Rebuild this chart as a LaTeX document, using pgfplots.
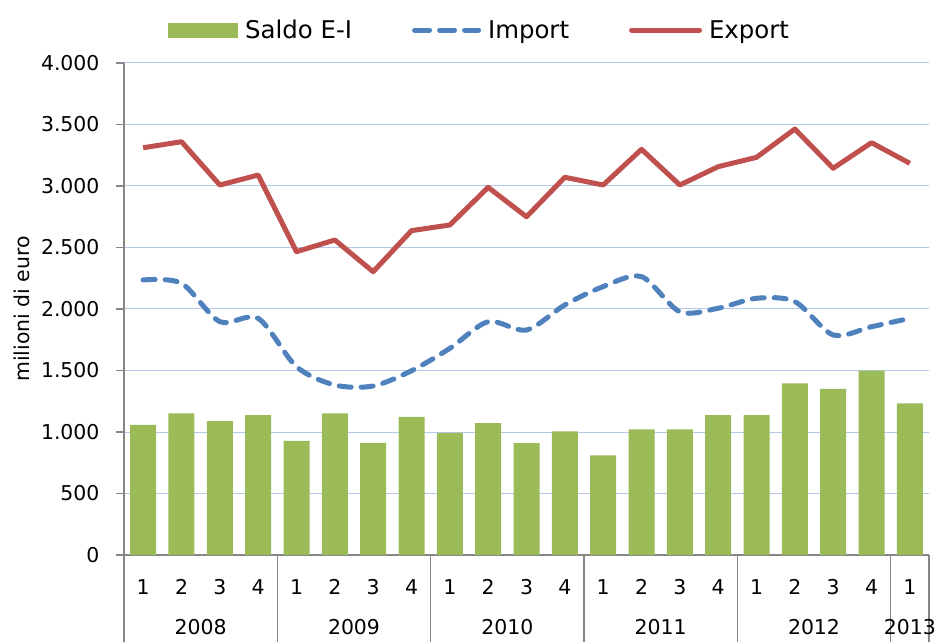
\documentclass[border=0pt]{standalone}
\usepackage{fontspec}
\setmainfont{DejaVu Sans}
\usepackage{pgfplots}
\usepackage{pgfplotstable}
\pgfplotsset{compat=1.18}
\usetikzlibrary{calc}
\definecolor{cbar}{HTML}{9BBB59}
\definecolor{cimp}{HTML}{4F81BD}
\definecolor{cexp}{HTML}{C0504D}
\definecolor{cgrid}{HTML}{B4C8EC}
\definecolor{caxis}{HTML}{868686}

\pgfplotstableread{
x saldo import export
0 1057 2236 3311
1 1152 2209 3360
2 1089 1897 3008
3 1138 1924 3089
4 927 1531 2466
5 1152 1382 2561
6 911 1374 2303
7 1122 1498 2637
8 992 1680 2683
9 1073 1897 2989
10 910 1829 2750
11 1005 2033 3071
12 810 2182 3008
13 1022 2263 3298
14 1022 1978 3008
15 1138 2006 3157
16 1138 2087 3233
17 1396 2060 3463
18 1350 1789 3144
19 1498 1856 3352
20 1233 1924 3184
}\data

\begin{document}
\begin{tikzpicture}
\begin{axis}[
  scale only axis, width=805bp, height=492bp,
  xmin=-0.5, xmax=20.5, ymin=0, ymax=4000,
  axis lines*=left,
  axis line style={caxis, line width=1.2bp},
  ytick={0,500,...,4000},
  xtick={0,...,20},
  xticklabels={1,2,3,4,1,2,3,4,1,2,3,4,1,2,3,4,1,2,3,4,1},
  x tick style={draw=none},
  y tick style={caxis, line width=1.2bp},
  tick align=outside, major tick length=8bp,
  ymajorgrids, grid style={cgrid, line width=1bp},
  /pgf/number format/1000 sep={.},
  /pgf/number format/assume math mode=true,
  tick label style={font=\fontsize{20.5}{24}\selectfont, text=black},
  xticklabel style={anchor=center, yshift=-24bp},
  yticklabel style={xshift=-13bp},
  ylabel={milioni di euro},
  every axis y label/.style={at={(rel axis cs:0,0.5)}, xshift=-102bp, rotate=90, anchor=center, font=\fontsize{20.5}{24}\selectfont},
  clip=false,
  legend style={at={(0.0547,1.067)}, anchor=west, draw=none, fill=none, inner sep=0pt,
    font=\fontsize{24.5}{28}\selectfont,
    /tikz/every odd column/.append style={column sep=5bp},
    /tikz/every even column/.append style={column sep=58bp}},
  legend columns=3,
]
\addplot[ybar, bar width=26bp, fill=cbar, draw=none,
  legend image code/.code={\fill[cbar] (0bp,-7.5bp) rectangle (70bp,7.5bp);}]
  table[x=x,y=saldo] {\data};
\addlegendentry{Saldo E-I}
\addplot[cimp, line width=5bp, line cap=round, dash pattern=on 12bp off 10bp, smooth,
  legend image code/.code={\draw[cimp, line width=5bp, line cap=round, dash pattern=on 15bp off 10bp] (3bp,0bp) -- (67bp,0bp);}]
  table[x=x,y=import] {\data};
\addlegendentry{Import}
\addplot[cexp, line width=5bp, line join=round,
  legend image code/.code={\draw[cexp, line width=5bp, line cap=round] (2bp,0bp) -- (70bp,0bp);}]
  table[x=x,y=export] {\data};
\addlegendentry{Export}
\pgfplotsinvokeforeach{-0.5,3.5,7.5,11.5,15.5,19.5,20.5}{
  \draw[caxis, line width=1.2bp] (axis cs:#1,0) -- ++(0bp,-87bp);
}
\node[font=\fontsize{20.5}{24}\selectfont] at (axis cs:1.5,0) [yshift=-72bp] {2008};
\node[font=\fontsize{20.5}{24}\selectfont] at (axis cs:5.5,0) [yshift=-72bp] {2009};
\node[font=\fontsize{20.5}{24}\selectfont] at (axis cs:9.5,0) [yshift=-72bp] {2010};
\node[font=\fontsize{20.5}{24}\selectfont] at (axis cs:13.5,0) [yshift=-72bp] {2011};
\node[font=\fontsize{20.5}{24}\selectfont] at (axis cs:17.5,0) [yshift=-72bp] {2012};
\node[font=\fontsize{20.5}{24}\selectfont] at (axis cs:20,0) [yshift=-72bp] {2013};
\coordinate (bl) at (rel axis cs:0,0);
\end{axis}
\pgfresetboundingbox
\path[use as bounding box] ($(bl)+(-124bp,-87bp)$) rectangle ($(bl)+(816bp,555bp)$);
\end{tikzpicture}
\end{document}
